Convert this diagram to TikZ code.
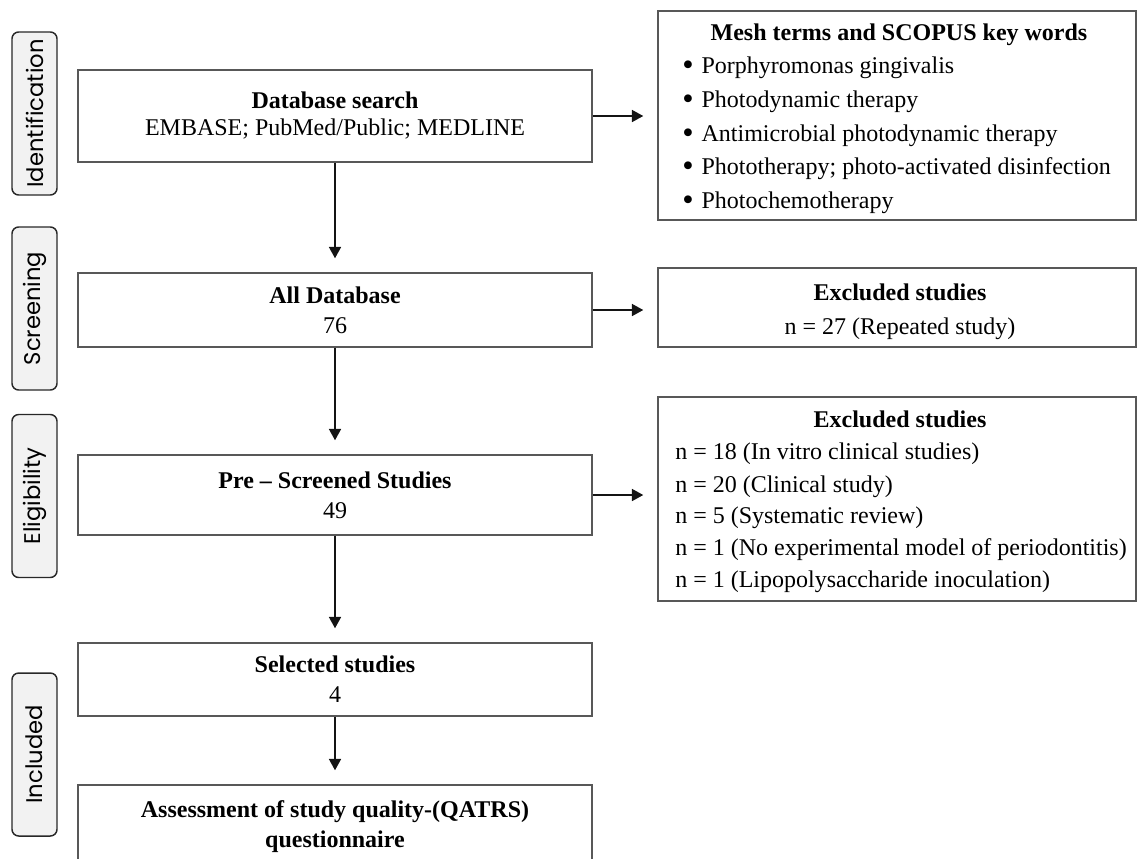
\documentclass[tikz,border=0pt]{standalone}
\usepackage{fontspec}
\usepackage{graphicx}
\setmainfont{Liberation Serif}
\newfontfamily\phasefont{Poppins}
\usetikzlibrary{arrows.meta}
\definecolor{boxgray}{RGB}{88,88,88}
\definecolor{phaseborder}{RGB}{40,40,40}
\definecolor{phasefill}{RGB}{242,242,242}
\definecolor{arrowcol}{RGB}{20,20,20}
\newcommand{\mybul}{\raisebox{-1.9pt}{\scalebox{1.35}{\textbullet}}\hspace{6pt}}
\begin{document}
\begin{tikzpicture}[x=0.75pt,y=-0.75pt,
  mainbox/.style={draw=boxgray, line width=1.1pt, minimum width=385.5pt, align=center, inner sep=0pt, font=\fontsize{18}{22.5}\selectfont},
  sidebox/.style={draw=boxgray, line width=1.1pt, minimum width=358.5pt, inner sep=0pt},
  phase/.style={draw=phaseborder, fill=phasefill, line width=1.1pt, rounded corners=5pt, rotate=90, minimum width=122.25pt, minimum height=33.75pt, inner sep=0pt, font=\phasefont\fontsize{17}{20}\selectfont},
  arr/.style={draw=arrowcol, -{Triangle[length=8.5pt,width=9pt]}, line width=1.2pt, shorten >=10.5pt},
  txt/.style={inner sep=0pt, font=\fontsize{18}{22}\selectfont}]
\useasboundingbox (0,0) rectangle (1137,858);
\clip (0,0) rectangle (1137,858);

% phase labels
\node[phase] (pI) at (34.5,113.5) {Identification};
\node[phase] (pS) at (34.5,308.5) {Screening};
\node[phase] (pE) at (34.5,496) {Eligibility};
\node[phase] (pN) at (34.5,754.5) {Included};

% main column
\node[mainbox, minimum height=69pt, font=\fontsize{18}{20.25}\selectfont] (db) at (335,116) {\textbf{Database search}\\EMBASE; PubMed/Public; MEDLINE};
\node[mainbox, minimum height=55.5pt] (all) at (335,310) {\textbf{All Database}\\76};
\node[mainbox, minimum height=60pt] (pre) at (335,495) {\textbf{Pre – Screened Studies}\\49};
\node[mainbox, minimum height=54.75pt] (sel) at (335,679.5) {\textbf{Selected studies}\\4};
\node[mainbox, minimum height=63pt] (qa) at (335,827) {\textbf{Assessment of study quality-(QATRS)}\\\textbf{questionnaire}};

% side boxes
\node[sidebox, minimum height=156.75pt] (mesh) at (897,115.5) {};
\node[sidebox, minimum height=59.25pt] (ex1) at (897,307.5) {};
\node[sidebox, minimum height=153pt] (ex2) at (897,499) {};

% mesh text
\node[txt, anchor=base] (meshT) at (899,40) {\textbf{Mesh terms and SCOPUS key words}};
\node[txt, anchor=base west] (m1) at (682,73) {\mybul Porphyromonas gingivalis};
\node[txt, anchor=base west] (m2) at (682,107) {\mybul Photodynamic therapy};
\node[txt, anchor=base west] (m3) at (682,141) {\mybul Antimicrobial photodynamic therapy};
\node[txt, anchor=base west] (m4) at (682,174) {\mybul Phototherapy; photo-activated disinfection};
\node[txt, anchor=base west] (m5) at (682,208) {\mybul Photochemotherapy};

% excluded 1
\node[txt, anchor=base] (e1T) at (900,300) {\textbf{Excluded studies}};
\node[txt, anchor=base] (e1a) at (900,334) {n = 27 (Repeated study)};

% excluded 2
\node[txt, anchor=base] (e2T) at (900,427) {\textbf{Excluded studies}};
\node[txt, anchor=base west] (e2a) at (675,459) {n = 18 (In vitro clinical studies)};
\node[txt, anchor=base west] (e2b) at (675,492) {n = 20 (Clinical study)};
\node[txt, anchor=base west] (e2c) at (675,523) {n = 5 (Systematic review)};
\node[txt, anchor=base west] (e2d) at (675,555) {n = 1 (No experimental model of periodontitis)};
\node[txt, anchor=base west] (e2e) at (675,587) {n = 1 (Lipopolysaccharide inoculation)};

% connectors
\draw[arr] (db.south) -- (all.north);
\draw[arr] (all.south) -- (pre.north);
\draw[arr] (pre.south) -- (sel.north);
\draw[arr] (sel.south) -- (qa.north);
\draw[arr] (db.east) -- (db.east -| mesh.west);
\draw[arr] (all.east) -- (all.east -| ex1.west);
\draw[arr] (pre.east) -- (pre.east -| ex2.west);
\end{tikzpicture}
\end{document}
